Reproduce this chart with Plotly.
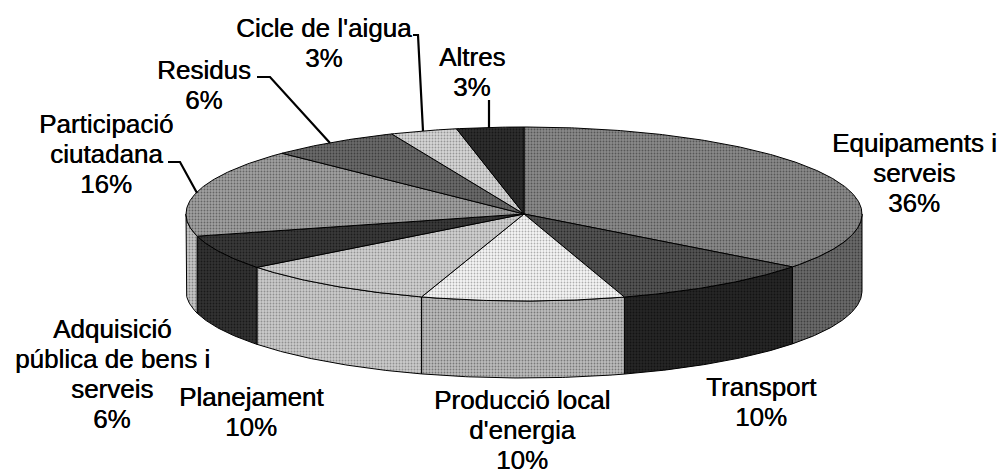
import numpy as np
import plotly.graph_objects as go

categories = ["Equipaments i<br>serveis", "Transport", "Producció local<br>d'energia", "Planejament",
              "Adquisició<br>pública de bens i<br>serveis", "Participació<br>ciutadana", "Residus",
              "Cicle de l'aigua", "Altres"]
percent_labels = ["36%", "10%", "10%", "10%", "6%", "16%", "6%", "3%", "3%"]
slice_shares = [35.4, 9.8, 9.7, 9.6, 6.4, 16.4, 6.3, 3.2, 3.2]

top_bg = ["#8a8a8a", "#555555", "#f6f6f6", "#d0d0d0", "#3a3a3a", "#a0a0a0", "#6a6a6a", "#d6d6d6", "#2e2e2e"]
top_fg = ["#222222", "#000000", "#666666", "#555555", "#000000", "#2a2a2a", "#111111", "#555555", "#000000"]
side_bg = ["#6a6a6a", "#262626", "#bcbcbc", "#cacaca", "#333333", "#c4c4c4", "#666666", "#d6d6d6", "#2e2e2e"]
side_fg = ["#111111", "#000000", "#333333", "#555555", "#000000", "#444444", "#111111", "#666666", "#000000"]

label_x = [914, 761, 522, 251, 112, 106, 204, 324, 472]
label_y = [173, 402, 430, 412, 374, 154, 85, 43, 72]

CX, CY, RX, RY, DEPTH = 524, 214, 338, 87, 77
LINE_STEP = 30


def arc(a0, a1, dy=0.0):
    t = np.radians(np.linspace(a0, a1, max(int(abs(a1 - a0) * 2), 2)))
    return CX + RX * np.sin(t), CY - RY * np.cos(t) + dy


fig = go.Figure()
edges = 360 * np.concatenate([[0], np.cumsum(slice_shares)]) / sum(slice_shares)


def poly(x, y, bg, fg, width=1.0):
    fig.add_trace(go.Scatter(
        x=x, y=y, mode="lines", fill="toself",
        line=dict(color="#000000", width=width),
        fillpattern=dict(shape=".", bgcolor=bg, fgcolor=fg, size=3, solidity=0.3),
        hoverinfo="skip", showlegend=False))


for i in range(len(slice_shares)):
    a0, a1 = max(edges[i], 90), min(edges[i + 1], 270)
    if a1 > a0:
        xt, yt = arc(a0, a1)
        xb, yb = arc(a1, a0, DEPTH)
        poly(np.r_[xt, xb, xt[0]], np.r_[yt, yb, yt[0]], side_bg[i], side_fg[i])

for i in range(len(slice_shares)):
    xa, ya = arc(edges[i], edges[i + 1])
    poly(np.r_[CX, xa, CX], np.r_[CY, ya, CY], top_bg[i], top_fg[i])

leaders = [
    ([168, 180, 197], [162, 162, 193]),
    ([257, 270, 330], [77, 77, 143]),
    ([413, 418, 423], [35, 35, 131]),
    ([489, 489], [100, 128]),
]
for lx, ly in leaders:
    fig.add_trace(go.Scatter(x=lx, y=ly, mode="lines", line=dict(color="#000000", width=2.2),
                             hoverinfo="skip", showlegend=False))

for name, pct, x, y in zip(categories, percent_labels, label_x, label_y):
    lines = name.split("<br>") + [pct]
    for k, line in enumerate(lines):
        fig.add_annotation(x=x, y=y + (k - (len(lines) - 1) / 2) * LINE_STEP, text=line, showarrow=False,
                           xanchor="center", yanchor="middle",
                           font=dict(family="Liberation Sans, Arial", size=26, color="#000000",
                                     shadow="0.4px 0 0 #000000"))

# the page has an 8px body margin, so the plot area starts at (8, 8) of the 1005x475 window
fig.update_layout(
    width=997, height=467, margin=dict(l=0, r=0, t=0, b=0),
    paper_bgcolor="#ffffff", plot_bgcolor="#ffffff",
    xaxis=dict(range=[8, 1005], visible=False, fixedrange=True),
    yaxis=dict(range=[475, 8], visible=False, fixedrange=True),
)
fig.write_html("out.html", config=dict(displayModeBar=False))
